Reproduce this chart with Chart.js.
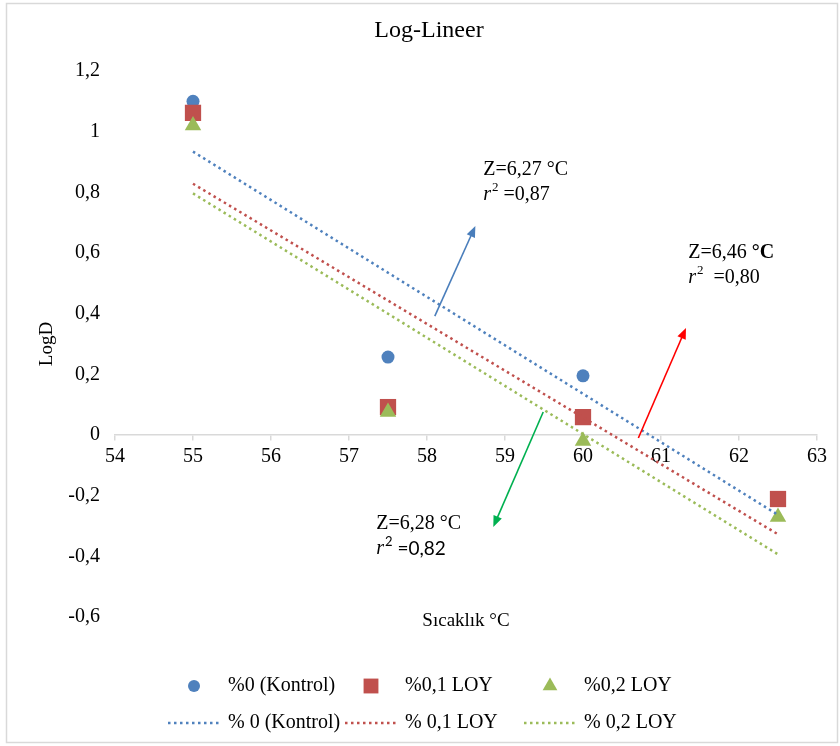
<!DOCTYPE html>
<html>
<head>
<meta charset="utf-8">
<title>Log-Lineer</title>
<script src="https://cdn.jsdelivr.net/npm/chart.js@4.4.1/dist/chart.umd.min.js"></script>
<style>
  html, body { margin: 0; padding: 0; background: #fff; }
  #wrap { width: 840px; height: 746px; }
</style>
</head>
<body>
<div id="wrap"><canvas id="chart" width="840" height="746"></canvas></div>
<script>
// temperatures (°C) and logD values per group
const temps = [55, 57.5, 60, 62.5];
const kontrol = [1.10, 0.257, 0.195, -0.21];
const loy01 = [1.062, 0.092, 0.059, -0.211];
const loy02 = [1.02, 0.076, -0.02, -0.27];

const seriesNames = ['%0 (Kontrol)', '%0,1 LOY', '%0,2 LOY'];
const trendNames = ['% 0 (Kontrol)', '% 0,1 LOY', '% 0,2 LOY'];
const colors = ['#4f81bd', '#c0504d', '#9bbb59'];
const markers = ['circle', 'rect', 'triangle'];

const xTicks = [54, 55, 56, 57, 58, 59, 60, 61, 62, 63];
const yTicks = [-0.6, -0.4, -0.2, 0, 0.2, 0.4, 0.6, 0.8, 1, 1.2];

// Z / r² notes with arrows pointing at the fitted lines (data units)
const zLabels = ['Z=6,27 ', 'Z=6,46 ', 'Z=6,28 '];
const r2Labels = [' =0,87', '  =0,80', ' =0,82'];
const notePos = [[58.72, 0.874], [61.35, 0.600], [57.35, -0.293]];
const arrowPos = [[58.10, 0.392, 58.62, 0.689], [60.71, -0.01, 61.32, 0.353], [59.49, 0.076, 58.85, -0.303]];
const arrowColors = ['#4a7ebb', '#ff0000', '#00b050'];

const SERIF = '"Liberation Serif", "Times New Roman", serif';
const SANS = 'Lato, "Liberation Sans", sans-serif';

function fitLine(xs, ys) {
  const n = xs.length;
  const mx = xs.reduce((a, b) => a + b) / n;
  const my = ys.reduce((a, b) => a + b) / n;
  let sxy = 0, sxx = 0;
  xs.forEach((x, i) => { sxy += (x - mx) * (ys[i] - my); sxx += (x - mx) * (x - mx); });
  const b = sxy / sxx, a = my - b * mx;
  return [xs[0], xs[n - 1]].map(x => ({ x: x, y: a + b * x }));
}

const groups = [kontrol, loy01, loy02];

const pointSets = groups.map((vals, i) => ({
  label: seriesNames[i],
  data: temps.map((t, k) => ({ x: t, y: vals[k] })),
  pointStyle: markers[i],
  pointRadius: [6.5, 11.5, 9.5][i],
  backgroundColor: colors[i],
  borderColor: colors[i],
  borderWidth: 0,
  showLine: false,
  order: 6 - i
}));

const trendSets = groups.map((vals, i) => ({
  label: trendNames[i],
  data: fitLine(temps, vals),
  showLine: true,
  pointRadius: 0,
  borderColor: colors[i],
  borderWidth: 2.5,
  borderDash: [2.5, 3.5],
  fill: false,
  order: 3 - i
}));

function drawMarker(ctx, style, x, y, r) {
  ctx.beginPath();
  if (style === 'circle') {
    ctx.arc(x, y, r, 0, Math.PI * 2);
  } else if (style === 'rect') {
    const h = r * Math.SQRT1_2;
    ctx.rect(x - h, y - h, 2 * h, 2 * h);
  } else {
    ctx.moveTo(x, y - r);
    ctx.lineTo(x + r * Math.sin(Math.PI * 2 / 3), y + r / 2);
    ctx.lineTo(x - r * Math.sin(Math.PI * 2 / 3), y + r / 2);
    ctx.closePath();
  }
  ctx.fill();
}

function drawArrow(ctx, x0, y0, x1, y1, color) {
  const ang = Math.atan2(y1 - y0, x1 - x0);
  const c = Math.cos(ang), s = Math.sin(ang);
  const head = 11, half = 4.5;
  ctx.strokeStyle = color;
  ctx.fillStyle = color;
  ctx.lineWidth = 1.6;
  ctx.beginPath();
  ctx.moveTo(x0, y0);
  ctx.lineTo(x1 - c * head * 0.8, y1 - s * head * 0.8);
  ctx.stroke();
  ctx.beginPath();
  ctx.moveTo(x1, y1);
  ctx.lineTo(x1 - head * c + half * s, y1 - head * s - half * c);
  ctx.lineTo(x1 - head * c - half * s, y1 - head * s + half * c);
  ctx.closePath();
  ctx.fill();
}

const decor = {
  id: 'decor',
  beforeDraw(chart) {
    const ctx = chart.ctx;
    ctx.save();
    ctx.fillStyle = '#fff';
    ctx.fillRect(0, 0, chart.width, chart.height);
    ctx.strokeStyle = '#d9d9d9';
    ctx.lineWidth = 1.5;
    ctx.strokeRect(6.5, 3.5, chart.width - 9, chart.height - 7);
    ctx.restore();
  },
  afterDatasetsDraw(chart) {
    const ctx = chart.ctx;
    const xs = chart.scales.x, ys = chart.scales.y;
    ctx.save();
    arrowPos.forEach((a, i) => {
      drawArrow(ctx, xs.getPixelForValue(a[0]), ys.getPixelForValue(a[1]),
        xs.getPixelForValue(a[2]), ys.getPixelForValue(a[3]), arrowColors[i]);
    });

    // Z and r² notes
    ctx.fillStyle = '#000';
    ctx.textBaseline = 'middle';
    ctx.textAlign = 'left';
    notePos.forEach((p, i) => {
      const x = xs.getPixelForValue(p[0]);
      const y = ys.getPixelForValue(p[1]);
      ctx.font = '20px ' + SERIF;
      ctx.fillText(zLabels[i], x, y);
      let w = ctx.measureText(zLabels[i]).width;
      ctx.font = (i === 1 ? 'bold ' : '') + '20px ' + SERIF;
      ctx.fillText('°C', x + w, y);

      const y2 = y + 25;
      ctx.font = 'italic 20px ' + SERIF;
      ctx.fillText('r', x, y2);
      w = ctx.measureText('r').width + 1;
      ctx.font = '13px ' + (i === 2 ? SANS : SERIF);
      ctx.fillText('2', x + w, y2 - 7);
      w += ctx.measureText('2').width;
      ctx.font = i === 2 ? '19px ' + SANS : '20px ' + SERIF;
      ctx.fillText(r2Labels[i], x + w, y2);
    });
    ctx.restore();
  },
  afterDraw(chart) {
    const ctx = chart.ctx;
    const area = chart.chartArea;
    ctx.save();
    ctx.fillStyle = '#000';
    ctx.textBaseline = 'middle';

    // chart title and x axis title
    ctx.textAlign = 'center';
    ctx.font = '24px ' + SERIF;
    ctx.fillText('Log-Lineer', 429, 31);
    ctx.font = '19px ' + SERIF;
    ctx.fillText('Sıcaklık °C', (area.left + area.right) / 2, 621);

    // legend: markers on the first row, trendlines on the second
    const colX = [228, 405, 584];
    const rowY = [686, 723];
    ctx.textAlign = 'left';
    ctx.font = '20px ' + SERIF;
    pointSets.forEach((ds, i) => {
      ctx.fillStyle = ds.backgroundColor;
      drawMarker(ctx, ds.pointStyle, colX[i] - 34, rowY[0], [6, 10.5, 8.5][i]);
      ctx.fillStyle = '#000';
      ctx.fillText(ds.label, colX[i], rowY[0]);
    });
    trendSets.forEach((ds, i) => {
      ctx.strokeStyle = ds.borderColor;
      ctx.lineWidth = ds.borderWidth;
      ctx.setLineDash(ds.borderDash);
      ctx.beginPath();
      ctx.moveTo(colX[i] - 60, rowY[1]);
      ctx.lineTo(colX[i] - 9, rowY[1]);
      ctx.stroke();
      ctx.setLineDash([]);
      ctx.fillStyle = '#000';
      ctx.fillText(ds.label, colX[i], rowY[1]);
    });
    ctx.restore();
  }
};

const fmt = v => String(Math.round(v * 10) / 10).replace('.', ',');

new Chart(document.getElementById('chart'), {
  type: 'scatter',
  data: { datasets: pointSets.concat(trendSets) },
  options: {
    responsive: false,
    animation: false,
    devicePixelRatio: 1,
    layout: { padding: { left: 0, right: 23, top: 71, bottom: 129 } },
    plugins: {
      legend: { display: false },
      tooltip: { enabled: false },
      title: { display: false }
    },
    scales: {
      x: {
        type: 'linear',
        position: { y: 0 },
        min: 54,
        max: 63,
        afterBuildTicks: s => { s.ticks = xTicks.map(v => ({ value: v })); },
        grid: { display: true, drawOnChartArea: false, drawTicks: true, tickLength: 5, color: '#d9d9d9', lineWidth: 1.5 },
        border: { display: true, color: '#d9d9d9', width: 1.5 },
        ticks: { color: '#000', font: { family: SERIF, size: 20 }, padding: 5, maxRotation: 0, autoSkip: false }
      },
      y: {
        min: -0.6,
        max: 1.2,
        afterBuildTicks: s => { s.ticks = yTicks.map(v => ({ value: v })); },
        afterFit: s => { s.width = 115; },
        grid: { display: false, drawTicks: false },
        border: { display: false },
        ticks: { color: '#000', font: { family: SERIF, size: 20 }, padding: 15, callback: fmt },
        title: {
          display: true,
          text: 'LogD',
          color: '#000',
          font: { family: SERIF, size: 19 },
          padding: { top: 36, bottom: 0 }
        }
      }
    }
  },
  plugins: [decor]
});
</script>
</body>
</html>
